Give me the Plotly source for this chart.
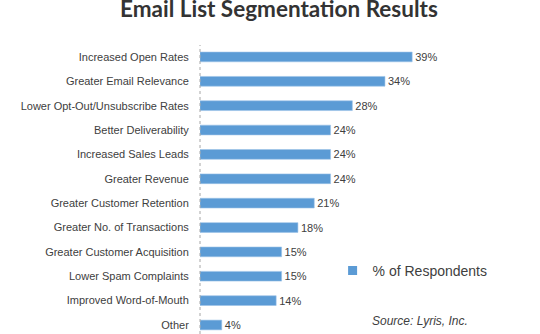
import plotly.graph_objects as go

categories = [
    "Increased Open Rates",
    "Greater Email Relevance",
    "Lower Opt-Out/Unsubscribe Rates",
    "Better Deliverability",
    "Increased Sales Leads",
    "Greater Revenue",
    "Greater Customer Retention",
    "Greater No. of Transactions",
    "Greater Customer Acquisition",
    "Lower Spam Complaints",
    "Improved Word-of-Mouth",
    "Other",
]
values = [39, 34, 28, 24, 24, 24, 21, 18, 15, 15, 14, 4]
series_name = "% of Respondents"
title_text = "Email List Segmentation Results"
source_text = "Source: Lyris, Inc."

bar_color = "#5B9BD5"
text_color = "#404040"

fig = go.Figure()
fig.add_trace(go.Bar(
    x=values,
    y=list(range(len(categories))),
    orientation="h",
    name=series_name,
    marker=dict(color=bar_color, line=dict(color="#9cc2e8", width=0.6)),
    width=0.4,
    text=[f"{v}%" for v in values],
    textposition="outside",
    constraintext="none",
    cliponaxis=False,
    textfont=dict(family="Liberation Sans, Arial", size=11, color=text_color),
    showlegend=False,
))
# legend entry with a small square key
fig.add_trace(go.Scatter(
    x=[None], y=[None], mode="markers", name=series_name,
    marker=dict(symbol="square", size=9, color=bar_color),
    showlegend=True,
))

fig.update_layout(
    width=540,
    height=334,
    margin=dict(l=200, r=0, t=45, b=0),
    paper_bgcolor="white",
    plot_bgcolor="white",
    font=dict(family="Liberation Sans, Arial", size=11, color=text_color),
    xaxis=dict(range=[0, 62.5], visible=False, fixedrange=True),
    yaxis=dict(
        range=[11.37, -0.49],
        tickmode="array",
        tickvals=list(range(len(categories))),
        ticktext=categories,
        showgrid=False,
        zeroline=False,
        showline=False,
        ticks="outside",
        ticklen=8,
        tickcolor="rgba(0,0,0,0)",
        tickfont=dict(family="Liberation Sans, Arial", size=11, color=text_color),
    ),
    legend=dict(
        x=0.39, y=0.218, xanchor="left", yanchor="middle",
        font=dict(family="Liberation Sans, Arial", size=14, color=text_color),
        bgcolor="rgba(0,0,0,0)",
        itemwidth=30,
    ),
    annotations=[
        dict(
            text=f"<b>{title_text}</b>", xref="paper", yref="paper",
            x=(279 - 200) / 340, y=1.125, xanchor="center", yanchor="middle",
            showarrow=False,
            font=dict(family="Lato", size=22.5, color="#333333"),
        ),
        dict(
            text=f"<i>{source_text}</i>", xref="paper", yref="paper",
            x=0.5, y=0.045, xanchor="left", yanchor="middle",
            showarrow=False,
            font=dict(family="Liberation Sans, Arial", size=12, color=text_color),
        ),
    ],
    shapes=[
        dict(type="line", xref="paper", yref="paper", x0=0, x1=0, y0=0, y1=1,
             line=dict(color="#a6a6a6", width=1, dash="dot")),
    ],
)

fig.write_html("out.html")
